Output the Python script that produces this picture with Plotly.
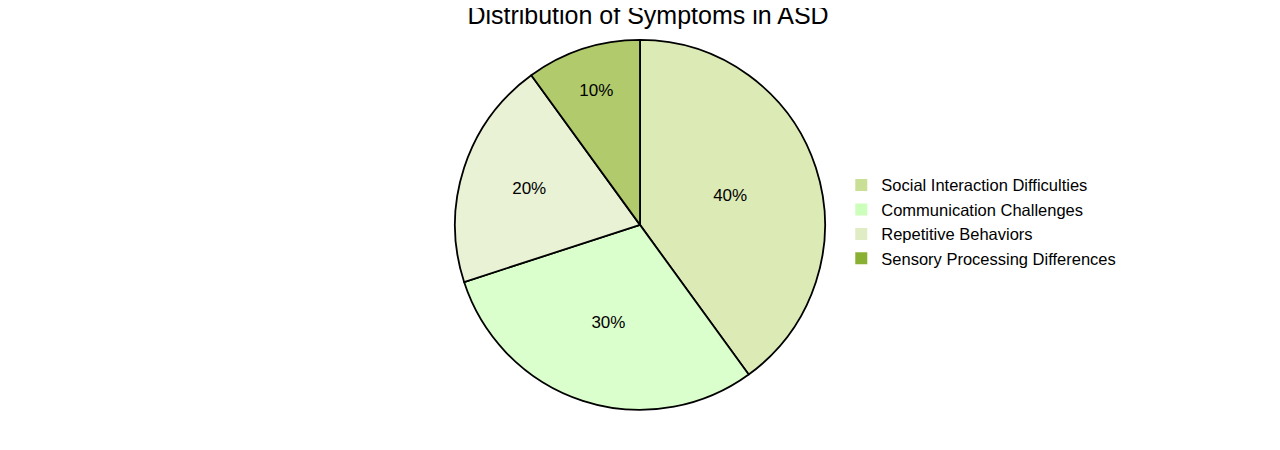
import plotly.graph_objects as go

labels = ["Social Interaction Difficulties", "Communication Challenges", "Repetitive Behaviors", "Sensory Processing Differences"]
values = [40, 30, 20, 10]
slice_colors = ["#dcebb6", "#dbffcc", "#e9f2d5", "#b1ca6c"]
legend_colors = ["#c9df96", "#ccffbb", "#dfecc4", "#8ab033"]

fig = go.Figure()
fig.add_trace(go.Pie(
    labels=labels, values=values, sort=False, direction="clockwise", rotation=0,
    marker=dict(colors=slice_colors, line=dict(color="black", width=1.8)),
    textinfo="percent", textposition="inside", insidetextorientation="horizontal",
    texttemplate="%{percent:.0%}",
    textfont=dict(size=17, color="black", family="Liberation Sans, Arial"),
    showlegend=False, hoverinfo="label+percent",
    domain=dict(x=[0, 0.9875], y=[0.107, 0.929]),
))
for lab, col in zip(labels, legend_colors):
    fig.add_trace(go.Scatter(x=[None], y=[None], mode="markers", name=lab,
                             marker=dict(symbol="square", size=18, color=col)))
fig.update_layout(
    width=1280, height=450, margin=dict(l=0, r=0, t=0, b=0),
    paper_bgcolor="white", plot_bgcolor="white",
    title=dict(text="Distribution of Symptoms in ASD", x=0.5, xanchor="center", y=0.983, yanchor="middle",
               font=dict(size=25, color="black", family="Liberation Sans, Arial")),
    xaxis=dict(visible=False), yaxis=dict(visible=False),
    legend=dict(x=0.651, y=0.525, xanchor="left", yanchor="middle", tracegroupgap=0,
                itemsizing="constant", bgcolor="rgba(0,0,0,0)",
                font=dict(size=16.5, color="black", family="Liberation Sans, Arial")),
)
fig.write_html("out.html")
